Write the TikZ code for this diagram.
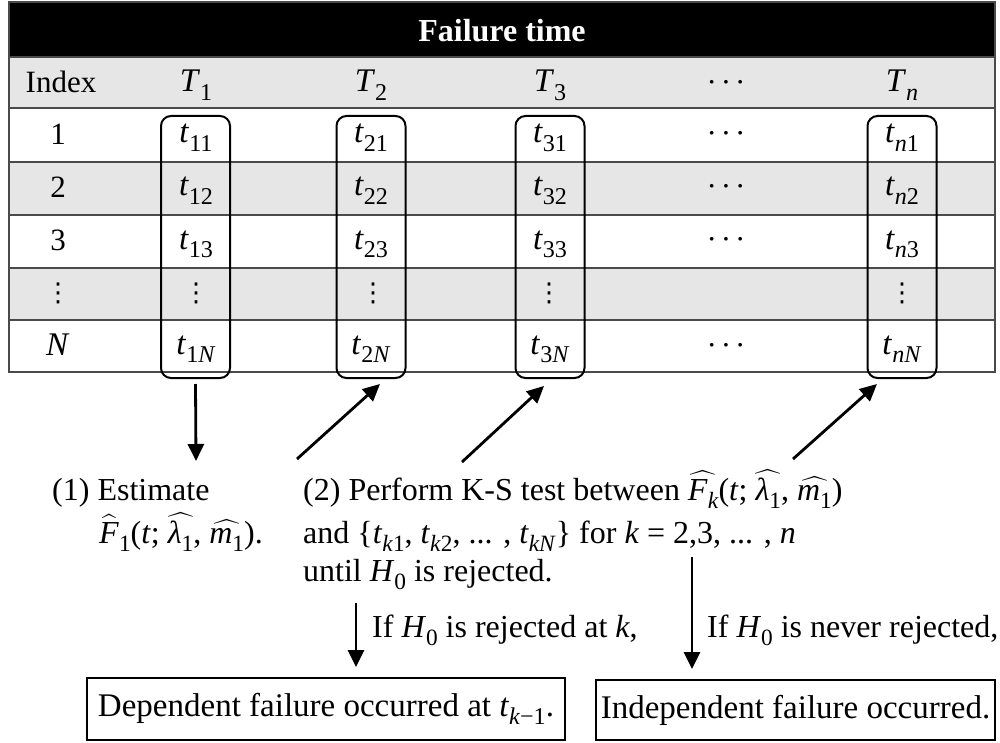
\RequirePackage{fix-cm}
\documentclass[tikz,border=0pt]{standalone}
\usepackage{amsmath}
\usepackage{fontspec}
\setmainfont{Liberation Serif}
\newfontfamily\symfont{DejaVu Sans}
\usetikzlibrary{arrows.meta,calc}
\definecolor{rowgray}{HTML}{E6E6E6}
\definecolor{gridgray}{HTML}{4A4A4A}
\newcommand\vdt{{\symfont\fontsize{26}{30}\selectfont ⋮}}
\newcommand\cdt{{\fontsize{31}{36}\selectfont ·\kern4pt·\kern4pt·}}
\newcommand\iv[1]{\textit{#1}}
\newcommand\sbx[1]{\raisebox{-0.25em}{\scalebox{0.73}{#1}}}
\newcommand\hatx[1]{$\widehat{\text{#1}}$}
\begin{document}
\begin{tikzpicture}[x=1pt,y=-1pt,
  cell/.style={anchor=base,inner sep=0pt,font=\fontsize{31}{36}\selectfont},
  mcell/.style={anchor=base,inner sep=0pt,font=\fontsize{33}{38}\selectfont},
  cellc/.style={anchor=center,inner sep=0pt},
  gridline/.style={draw=gridgray,line width=1.5pt},
  colbox/.style={draw=black,line width=2pt,rounded corners=10pt,minimum width=69pt,minimum height=262pt,inner sep=0pt},
  arr/.style={line width=2.8pt,-{Triangle[length=17pt,width=16pt]}},
  lbl/.style={anchor=base west,inner sep=0pt,font=\fontsize{32}{38}\selectfont},
  resbox/.style={draw=black,line width=2pt,inner sep=0pt,font=\fontsize{33}{38}\selectfont}]
\useasboundingbox[fill=white] (0,0) rectangle (1000,743);
% header
\fill[black] (9,2) rectangle (995,57);
\node[anchor=base,inner sep=0pt,text=white,font=\bfseries\fontsize{32}{36}\selectfont] (hdr) at (502,42) {Failure time};
% row fills
\fill[rowgray] (9,57) rectangle (995,108);
\fill[rowgray] (9,162) rectangle (995,215);
\fill[rowgray] (9,268) rectangle (995,320);
\foreach \yy in {57,108,162,215,268,320} \draw[gridline] (9,\yy) -- (995,\yy);
\draw[gridline] (9,2) rectangle (995,372);
% column headers
\node[cell] (hidx) at (61,93) {Index};
\node[mcell] (h1) at (196,92) {\iv{T}\sbx{1}};
\node[mcell] (h2) at (371,92) {\iv{T}\sbx{2}};
\node[mcell] (h3) at (550,92) {\iv{T}\sbx{3}};
\node[cell] (hd) at (726,93) {\cdt};
\node[mcell] (hn) at (902,92) {\iv{T}\sbx{\iv{n}}};
% data rows
\foreach \s/\yy in {1/143,2/196,3/249}{
  \node[mcell] (a\s) at (196,\yy) {\iv{t}\sbx{1\s}};
  \node[mcell] (b\s) at (371,\yy) {\iv{t}\sbx{2\s}};
  \node[mcell] (c\s) at (550,\yy) {\iv{t}\sbx{3\s}};
  \node[cell] (d\s) at (726,\yy+1) {\cdt};
  \node[mcell] (n\s) at (902,\yy) {\iv{t}\sbx{\iv{n}\s}};
}
\node[mcell] (aN) at (196,354) {\iv{t}\sbx{1\iv{N}}};
\node[mcell] (bN) at (371,354) {\iv{t}\sbx{2\iv{N}}};
\node[mcell] (cN) at (550,354) {\iv{t}\sbx{3\iv{N}}};
\node[cell] (dN) at (726,355) {\cdt};
\node[mcell] (nN) at (902,354) {\iv{t}\sbx{\iv{nN}}};
\node[cell] (i1) at (58,145) {1};
\node[cell] (i2) at (58,198) {2};
\node[cell] (i3) at (58,251) {3};
\node[mcell] (iN) at (58,355) {\iv{N}};
\node[cellc] (iv) at (58,293) {\vdt};
\node[cellc] (av) at (196,293) {\vdt};
\node[cellc] (bv) at (373,293) {\vdt};
\node[cellc] (cv) at (549,293) {\vdt};
\node[cellc] (nv) at (902,293) {\vdt};
% column boxes
\node[colbox] (c1) at (195.5,247) {};
\node[colbox] (c2) at (371,247) {};
\node[colbox] (c3) at (550,247) {};
\node[colbox] (cn) at (902,247) {};
% lower texts
\node[lbl] (s1a) at (52,500) {(1) Estimate};
\node[lbl] (s1b) at (99,543) {\hatx{\iv{F}}\sbx{1}(\iv{t}; \hatx{\iv{λ}\sbx{1}}, \hatx{\iv{m}\sbx{1}}).};
\node[lbl] (s2a) at (303,500) {(2) Perform K-S test between \hatx{\iv{F}\sbx{\iv{k}}}(\iv{t}; \hatx{\iv{λ}\sbx{1}}, \hatx{\iv{m}\sbx{1}})};
\node[lbl] (s2b) at (303,543) {and \{\iv{t}\sbx{\iv{k}1}, \iv{t}\sbx{\iv{k}2}, ... , \iv{t}\sbx{\iv{kN}}\} for \iv{k} = 2,3, ... , \iv{n}};
\node[lbl] (s2c) at (303,581) {until \iv{H}\sbx{0} is rejected.};
\node[lbl] (l1) at (372,637) {If \iv{H}\sbx{0} is rejected at \iv{k},};
\node[lbl] (l2) at (707,637) {If \iv{H}\sbx{0} is never rejected,};
% result boxes
\node[resbox,minimum width=478pt,minimum height=62pt] (r1) at (326,709) {Dependent failure occurred at \iv{t}\sbx{\iv{k}−1}.};
\node[resbox,minimum width=399pt,minimum height=60pt] (r2) at (795.5,710) {Independent failure occurred.};
% arrows
\coordinate (e1) at (196,461);
\coordinate (s2) at (297,459);
\coordinate (s3) at (462,462);
\coordinate (s4) at (793,459);
\coordinate (s5) at (356,603);
\coordinate (s6) at (692,557);
\draw[arr] ([yshift=-5pt]c1.south) -- (e1);
\draw[arr] (s2) -- ($(c2.south)+(9,5)$);
\draw[arr] (s3) -- ($(c3.south)+(-6,7)$);
\draw[arr] (s4) -- ($(cn.south)+(-25,5)$);
\draw[arr,shorten >=10pt] (s5) -- (s5 |- r1.north);
\draw[arr,shorten >=10pt] (s6) -- (s6 |- r2.north);
\end{tikzpicture}
\end{document}
